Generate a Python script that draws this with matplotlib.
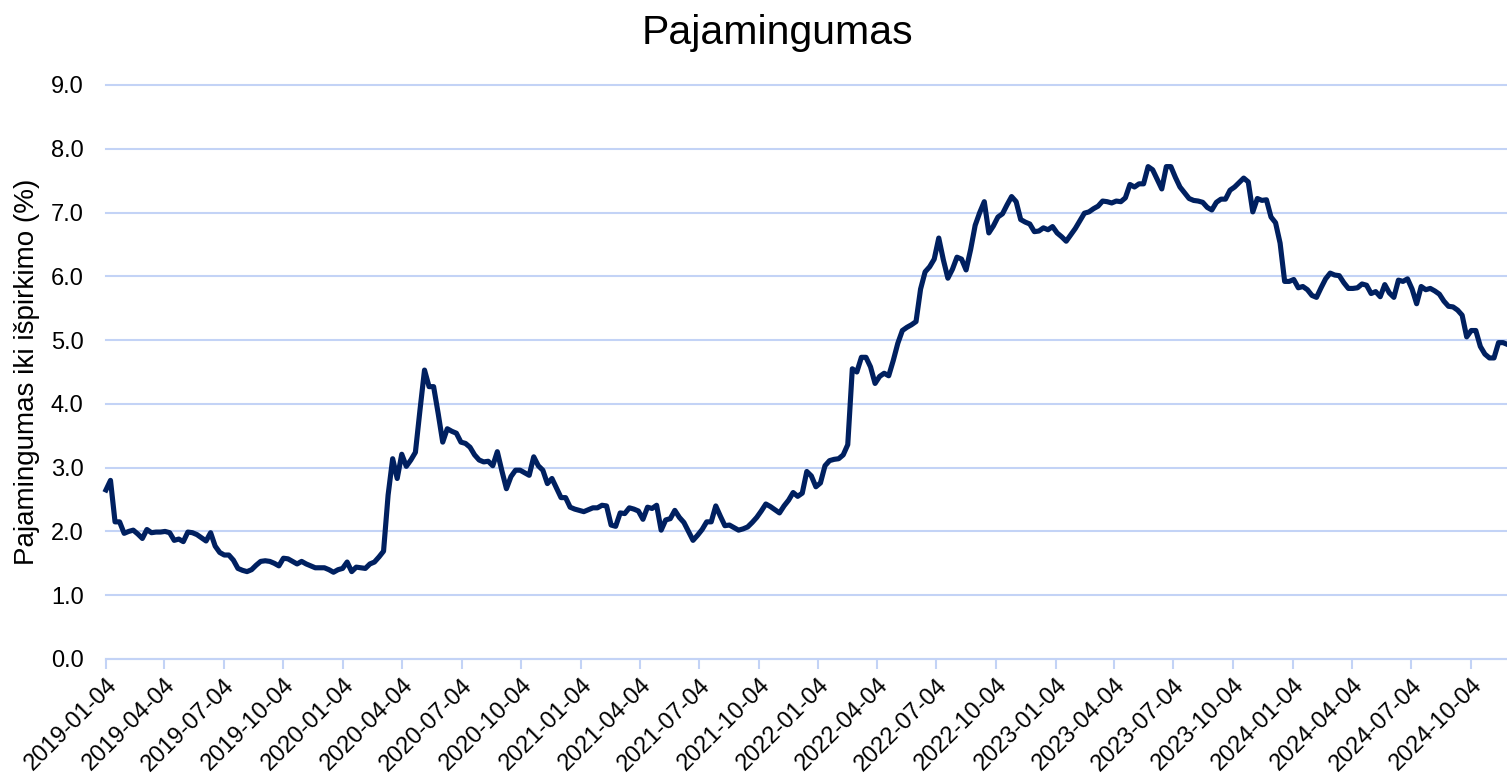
import matplotlib
matplotlib.use('Agg')
import matplotlib.pyplot as plt
import pandas as pd
from matplotlib.ticker import FormatStrFormatter

# weekly observations (Fridays), first one on 2019-01-04
START_DATE = '2019-01-04'
END_DATE = '2024-11-28'

yields = [
    2.65, 2.80, 2.15, 2.15, 1.97, 2.00, 2.02, 1.96, 1.89, 2.03,
    1.98, 1.99, 1.99, 2.00, 1.98, 1.86, 1.88, 1.84, 1.99, 1.98,
    1.95, 1.90, 1.85, 1.98, 1.77, 1.67, 1.63, 1.63, 1.55, 1.42,
    1.39, 1.37, 1.40, 1.47, 1.53, 1.54, 1.53, 1.50, 1.46, 1.58,
    1.57, 1.53, 1.49, 1.53, 1.49, 1.46, 1.43, 1.43, 1.43, 1.40,
    1.36, 1.40, 1.42, 1.52, 1.37, 1.44, 1.43, 1.42, 1.49, 1.52,
    1.60, 1.69, 2.57, 3.14, 2.83, 3.21, 3.02, 3.12, 3.24, 3.90,
    4.53, 4.27, 4.27, 3.85, 3.40, 3.61, 3.57, 3.54, 3.40, 3.38,
    3.32, 3.20, 3.12, 3.09, 3.10, 3.03, 3.25, 2.95, 2.67, 2.86,
    2.96, 2.96, 2.92, 2.88, 3.17, 3.03, 2.96, 2.75, 2.83, 2.68,
    2.53, 2.53, 2.38, 2.35, 2.33, 2.31, 2.34, 2.37, 2.37, 2.41,
    2.40, 2.10, 2.08, 2.29, 2.28, 2.37, 2.35, 2.32, 2.19, 2.38,
    2.36, 2.41, 2.02, 2.18, 2.20, 2.33, 2.22, 2.14, 2.00, 1.86,
    1.94, 2.03, 2.15, 2.15, 2.40, 2.24, 2.09, 2.10, 2.06, 2.02,
    2.04, 2.07, 2.14, 2.22, 2.32, 2.43, 2.39, 2.34, 2.29, 2.40,
    2.49, 2.61, 2.55, 2.60, 2.94, 2.87, 2.70, 2.76, 3.03, 3.11,
    3.13, 3.14, 3.20, 3.36, 4.55, 4.50, 4.73, 4.73, 4.58, 4.32,
    4.43, 4.48, 4.44, 4.68, 4.95, 5.15, 5.20, 5.24, 5.29, 5.80,
    6.07, 6.15, 6.27, 6.60, 6.26, 5.97, 6.11, 6.30, 6.27, 6.10,
    6.42, 6.80, 7.00, 7.17, 6.68, 6.79, 6.93, 6.98, 7.12, 7.25,
    7.17, 6.89, 6.85, 6.82, 6.70, 6.71, 6.76, 6.73, 6.78, 6.68,
    6.62, 6.55, 6.65, 6.75, 6.87, 6.99, 7.01, 7.06, 7.10, 7.18,
    7.17, 7.15, 7.18, 7.17, 7.23, 7.44, 7.40, 7.45, 7.45, 7.72,
    7.67, 7.52, 7.37, 7.72, 7.72, 7.55, 7.40, 7.31, 7.22, 7.19,
    7.18, 7.16, 7.08, 7.04, 7.16, 7.21, 7.21, 7.35, 7.40, 7.47,
    7.54, 7.48, 7.01, 7.22, 7.19, 7.20, 6.93, 6.84, 6.52, 5.92,
    5.92, 5.95, 5.82, 5.84, 5.79, 5.70, 5.67, 5.82, 5.96, 6.05,
    6.02, 6.01, 5.90, 5.81, 5.81, 5.82, 5.88, 5.86, 5.73, 5.76,
    5.68, 5.87, 5.74, 5.67, 5.94, 5.92, 5.96, 5.80, 5.57, 5.84,
    5.79, 5.81, 5.77, 5.72, 5.61, 5.53, 5.52, 5.47, 5.39, 5.05,
    5.15, 5.15, 4.90, 4.78, 4.72, 4.72, 4.96, 4.96, 4.93,
]

tick_dates = [
    '2019-01-04', '2019-04-04', '2019-07-04', '2019-10-04',
    '2020-01-04', '2020-04-04', '2020-07-04', '2020-10-04',
    '2021-01-04', '2021-04-04', '2021-07-04', '2021-10-04',
    '2022-01-04', '2022-04-04', '2022-07-04', '2022-10-04',
    '2023-01-04', '2023-04-04', '2023-07-04', '2023-10-04',
    '2024-01-04', '2024-04-04', '2024-07-04', '2024-10-04',
]

y_ticks = [0, 1, 2, 3, 4, 5, 6, 7, 8, 9]

LINE_COLOR = '#002060'
GRID_COLOR = '#C3D3F6'


def create_yield_plot():
    dates = pd.date_range(START_DATE, periods=len(yields), freq='7D')

    plt.rcParams['font.family'] = ['Liberation Sans', 'DejaVu Sans']
    fig = plt.figure(figsize=(15.07, 7.76), dpi=100)
    ax = fig.add_axes([0.0703, 0.1508, 0.9297, 0.7397])

    ax.plot(dates, yields, color=LINE_COLOR, linewidth=3.7,
            solid_joinstyle='round', clip_on=False, zorder=3)

    ax.set_ylim(0, 9)
    ax.set_yticks(y_ticks)
    ax.yaxis.set_major_formatter(FormatStrFormatter('%.1f'))
    ax.set_xlim(pd.Timestamp(START_DATE), pd.Timestamp(END_DATE))
    ax.set_xticks(pd.to_datetime(tick_dates))
    ax.set_xticklabels(tick_dates, rotation=45, ha='right',
                       rotation_mode='anchor')

    ax.grid(axis='y', color=GRID_COLOR, linewidth=1.5, zorder=1)
    for line in ax.get_ygridlines():
        line.set_clip_on(False)
    ax.set_axisbelow(True)
    for side in ['left', 'top', 'right']:
        ax.spines[side].set_visible(False)
    ax.spines['bottom'].set_color(GRID_COLOR)
    ax.spines['bottom'].set_linewidth(1.5)

    ax.tick_params(axis='x', length=7, width=1.5, color=GRID_COLOR,
                   labelsize=17, pad=4)
    ax.tick_params(axis='y', length=0, labelsize=17, pad=16)

    ax.set_ylabel('Pajamingumas iki išpirkimo (%)', fontsize=20)
    ax.yaxis.set_label_coords(-0.047, 0.5)

    fig.text(0.5156, 0.957, 'Pajamingumas', ha='center', va='center',
             fontsize=29.5)

    plt.savefig('out.png', dpi=100)


def main():
    create_yield_plot()


if __name__ == "__main__":
    main()
